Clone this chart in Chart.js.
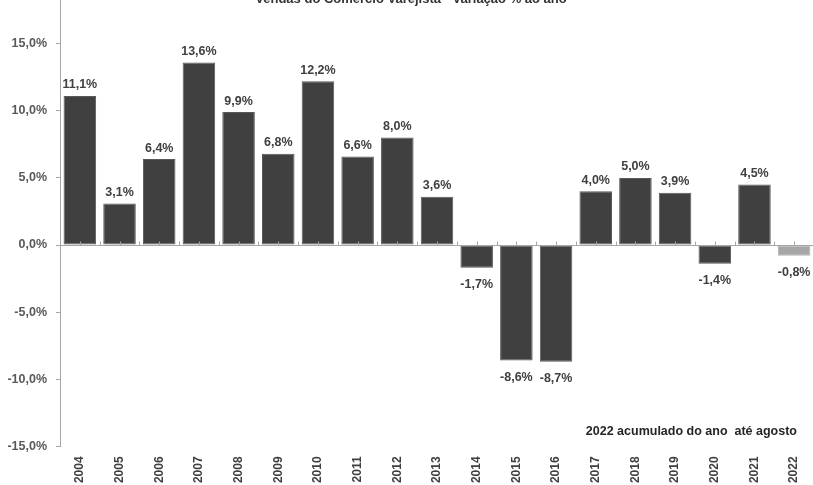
<!DOCTYPE html>
<html>
<head>
<meta charset="utf-8">
<script src="https://cdn.jsdelivr.net/npm/chart.js@4"></script>
<style>
  html, body { margin: 0; padding: 0; background: #ffffff; }
  body { width: 813px; height: 485px; overflow: hidden; position: relative; }
  #wrap { position: absolute; left: 0; top: -40px; width: 830px; height: 530px; }
  #title { position: absolute; left: 0; width: 822px; top: -9px; text-align: center;
           font: bold 13px "Liberation Sans", Arial, sans-serif; line-height: 16px; color: #333333; white-space: nowrap; }
  #note { position: absolute; right: 16px; top: 424px; font: bold 12.5px "Liberation Sans", Arial, sans-serif;
          line-height: 14px; color: #262626; white-space: pre; }
</style>
</head>
<body>
<div id="wrap"><canvas id="c" width="830" height="530"></canvas></div>
<div id="title">Vendas do Comércio Varejista - Variação % ao ano</div>
<div id="note">2022 acumulado do ano  até agosto</div>
<script>
const categories = ['2004','2005','2006','2007','2008','2009','2010','2011','2012','2013','2014','2015','2016','2017','2018','2019','2020','2021','2022'];
const salesGrowth = [11.1, 3.1, 6.4, 13.6, 9.9, 6.8, 12.2, 6.6, 8.0, 3.6, -1.7, -8.6, -8.7, 4.0, 5.0, 3.9, -1.4, 4.5, -0.8];
const partialYear = ['2022'];
const yMin = -15, yMax = 20, yStep = 5;

const fmt = v => v.toFixed(1).replace('.', ',') + '%';
const barColors = categories.map(c => partialYear.includes(c) ? '#a6a6a6' : '#404040');
const barBorders = categories.map(c => partialYear.includes(c) ? '#b4b4b4' : '#5a5a5a');

const zeroLinePlugin = {
  id: 'zeroLine',
  afterDatasetsDraw(chart) {
    const {ctx, chartArea, scales} = chart;
    const y = Math.round(scales.y.getPixelForValue(0)) + 0.5;
    ctx.save();
    ctx.strokeStyle = '#a6a6a6';
    ctx.lineWidth = 1;
    ctx.beginPath();
    ctx.moveTo(chartArea.left, y);
    ctx.lineTo(chartArea.right, y);
    const n = categories.length;
    for (let i = 0; i <= n; i++) {
      const xb = Math.round(scales.x.getPixelForValue(i - 0.5)) + 0.5;
      ctx.moveTo(xb, y); ctx.lineTo(xb, y - 4);
      if (i < n) {
        const xc = Math.round(scales.x.getPixelForValue(i)) + 0.5;
        ctx.moveTo(xc, y); ctx.lineTo(xc, y - 4);
      }
    }
    ctx.stroke();
    ctx.restore();
  }
};

const valueLabelPlugin = {
  id: 'valueLabels',
  afterDatasetsDraw(chart) {
    const {ctx} = chart;
    const meta = chart.getDatasetMeta(0);
    ctx.save();
    ctx.font = 'bold 12.5px "Liberation Sans", Arial, sans-serif';
    ctx.fillStyle = '#404040';
    ctx.textAlign = 'center';
    ctx.textBaseline = 'alphabetic';
    meta.data.forEach((bar, i) => {
      const v = salesGrowth[i];
      if (v >= 0) {
        ctx.fillText(fmt(v), bar.x, bar.y - 7.5);
      } else {
        ctx.fillText(fmt(v), bar.x, bar.y + 20.5);
      }
    });
    ctx.restore();
  }
};

new Chart(document.getElementById('c'), {
  type: 'bar',
  data: {
    labels: categories,
    datasets: [{
      data: salesGrowth,
      backgroundColor: barColors,
      borderColor: barBorders,
      borderWidth: 1,
      borderSkipped: false,
      barPercentage: 0.82,
      categoryPercentage: 1.0
    }]
  },
  options: {
    responsive: false,
    animation: false,
    devicePixelRatio: 1,
    layout: { padding: { top: 11, right: 16, left: 0, bottom: 0 } },
    plugins: { legend: { display: false }, tooltip: { enabled: false }, title: { display: false } },
    scales: {
      x: {
        grid: { display: false, drawTicks: false },
        border: { display: false },
        ticks: {
          minRotation: 90, maxRotation: 90, padding: 10, autoSkip: false,
          color: '#404040',
          font: { family: '"Liberation Sans", Arial, sans-serif', size: 12, weight: 'bold' }
        },
        afterFit(scale) { scale.height = 43.6; }
      },
      y: {
        min: yMin, max: yMax,
        ticks: {
          stepSize: yStep, padding: 9, color: '#595959',
          font: { family: '"Liberation Sans", Arial, sans-serif', size: 12.5, weight: 'bold' },
          callback: v => fmt(v)
        },
        grid: { drawOnChartArea: false, drawTicks: true, tickLength: 4, color: '#a6a6a6' },
        border: { display: true, color: '#a6a6a6', width: 1 },
        afterFit(scale) { scale.width = 60; }
      }
    }
  },
  plugins: [zeroLinePlugin, valueLabelPlugin]
});
</script>
</body>
</html>
